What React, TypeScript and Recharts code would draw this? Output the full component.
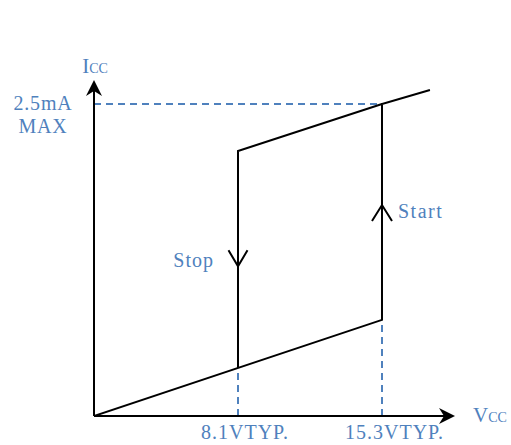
import React from 'react';
import { ComposedChart, Line, XAxis, YAxis, ReferenceLine, ReferenceDot } from 'recharts';

// schematic units: x = 1 at stop voltage, x = 2 at start voltage; y in mA
const risingPath = [
  { x: 0, y: 0 },
  { x: 2, y: 0.77 },
  { x: 2, y: 2.5 },
  { x: 2.333, y: 2.612 },
];
const fallingPath = [
  { x: 2, y: 2.5 },
  { x: 1, y: 2.123 },
  { x: 1, y: 0.385 },
];
const vccTickPositions = [1, 2];
const vccTickLabels = ['8.1VTYP.', '15.3VTYP.'];
const iccTickPositions = [2.5];
const iccTickLabels = [['2.5mA', 'MAX']];
const stopArrow = { x: 1, y: 1.2, label: 'Stop' };
const startArrow = { x: 2, y: 1.69, label: 'Start' };
const axisEnd = { x: 2.507, y: 2.692 };

const BLUE = '#4f81bd';
const FONT = '"Liberation Serif", "Times New Roman", serif';

const VccTick = (props: any) => {
  const { x, y, payload } = props;
  const i = vccTickPositions.indexOf(payload.value);
  return (
    <text x={x - 37} y={y + 15} fill={BLUE} fontFamily={FONT} fontSize={20} letterSpacing={1}>
      {vccTickLabels[i]}
    </text>
  );
};

const IccTick = (props: any) => {
  const { x, y, payload } = props;
  const i = iccTickPositions.indexOf(payload.value);
  const [top, bottom] = iccTickLabels[i];
  return (
    <text x={x - 43} y={y} fill={BLUE} fontFamily={FONT} fontSize={20} letterSpacing={0.8} textAnchor="middle">
      <tspan x={x - 43} dy={6}>{top}</tspan>
      <tspan x={x - 43} dy={23}>{bottom}</tspan>
    </text>
  );
};

const XAxisArrow = (props: any) => {
  const { x1, y1, x2, y2 } = props;
  return (
    <g>
      <line x1={x1} y1={y1} x2={x2 - 10} y2={y2} stroke="#000" strokeWidth={2} />
      <path d={`M${x2},${y2} L${x2 - 16},${y2 - 8} L${x2 - 11},${y2} L${x2 - 16},${y2 + 8} Z`} fill="#000" />
      <text x={x2 + 18} y={y2 + 6} fill={BLUE} fontFamily={FONT}>
        <tspan fontSize={21}>V</tspan>
        <tspan fontSize={14}>CC</tspan>
      </text>
    </g>
  );
};

const YAxisArrow = (props: any) => {
  const { x1, y1, x2, y2 } = props;
  const top = Math.min(y1, y2);
  const bottom = Math.max(y1, y2);
  return (
    <g>
      <line x1={x1} y1={bottom} x2={x2} y2={top + 10} stroke="#000" strokeWidth={2} />
      <path d={`M${x1},${top} L${x1 - 8},${top + 16} L${x1},${top + 11} L${x1 + 8},${top + 16} Z`} fill="#000" />
      <text x={x1 + 1} y={top - 7} fill={BLUE} fontFamily={FONT} textAnchor="middle">
        <tspan fontSize={21}>I</tspan>
        <tspan fontSize={14}>CC</tspan>
      </text>
    </g>
  );
};

const StopMark = (props: any) => {
  const { cx, cy } = props;
  return (
    <g>
      <path d={`M${cx - 9.5},${cy - 16} L${cx},${cy} L${cx + 9.5},${cy - 16}`} fill="none" stroke="#000" strokeWidth={2} />
      <text x={cx - 24} y={cy + 1} fill={BLUE} fontFamily={FONT} fontSize={20} letterSpacing={1} textAnchor="end">
        {stopArrow.label}
      </text>
    </g>
  );
};

const StartMark = (props: any) => {
  const { cx, cy } = props;
  return (
    <g>
      <path d={`M${cx - 10},${cy + 16} L${cx},${cy} L${cx + 10},${cy + 16}`} fill="none" stroke="#000" strokeWidth={2} />
      <text x={cx + 16} y={cy + 13} fill={BLUE} fontFamily={FONT} fontSize={20} letterSpacing={1.5}>
        {startArrow.label}
      </text>
    </g>
  );
};

export default function App() {
  return (
    <div style={{ position: 'absolute', left: 0, top: 0, width: 511, height: 445, background: '#fff' }}>
      <ComposedChart width={511} height={445} margin={{ top: 80, right: 56, bottom: 0, left: 0 }}>
        <XAxis
          type="number"
          dataKey="x"
          domain={[0, axisEnd.x]}
          ticks={vccTickPositions}
          tick={VccTick}
          axisLine={false}
          tickLine={false}
          height={29}
          allowDataOverflow
        />
        <YAxis
          type="number"
          dataKey="y"
          domain={[0, axisEnd.y]}
          ticks={iccTickPositions}
          tick={IccTick}
          axisLine={false}
          tickLine={false}
          width={94}
          allowDataOverflow
        />
        <ReferenceLine segment={[{ x: 0, y: iccTickPositions[0] }, { x: vccTickPositions[1], y: iccTickPositions[0] }]} stroke={BLUE} strokeWidth={2} strokeDasharray="7 5" />
        <ReferenceLine segment={[{ x: vccTickPositions[0], y: 0 }, { x: vccTickPositions[0], y: fallingPath[2].y }]} stroke={BLUE} strokeWidth={2} strokeDasharray="7 5" />
        <ReferenceLine segment={[{ x: vccTickPositions[1], y: 0 }, { x: vccTickPositions[1], y: risingPath[1].y }]} stroke={BLUE} strokeWidth={2} strokeDasharray="7 5" />
        <ReferenceLine segment={[{ x: 0, y: 0 }, { x: axisEnd.x, y: 0 }]} shape={XAxisArrow} />
        <ReferenceLine segment={[{ x: 0, y: 0 }, { x: 0, y: axisEnd.y }]} shape={YAxisArrow} />
        <Line data={risingPath} dataKey="y" type="linear" stroke="#000" strokeWidth={2} dot={false} isAnimationActive={false} />
        <Line data={fallingPath} dataKey="y" type="linear" stroke="#000" strokeWidth={2} dot={false} isAnimationActive={false} />
        <ReferenceDot x={stopArrow.x} y={stopArrow.y} shape={StopMark} />
        <ReferenceDot x={startArrow.x} y={startArrow.y} shape={StartMark} />
      </ComposedChart>
    </div>
  );
}
